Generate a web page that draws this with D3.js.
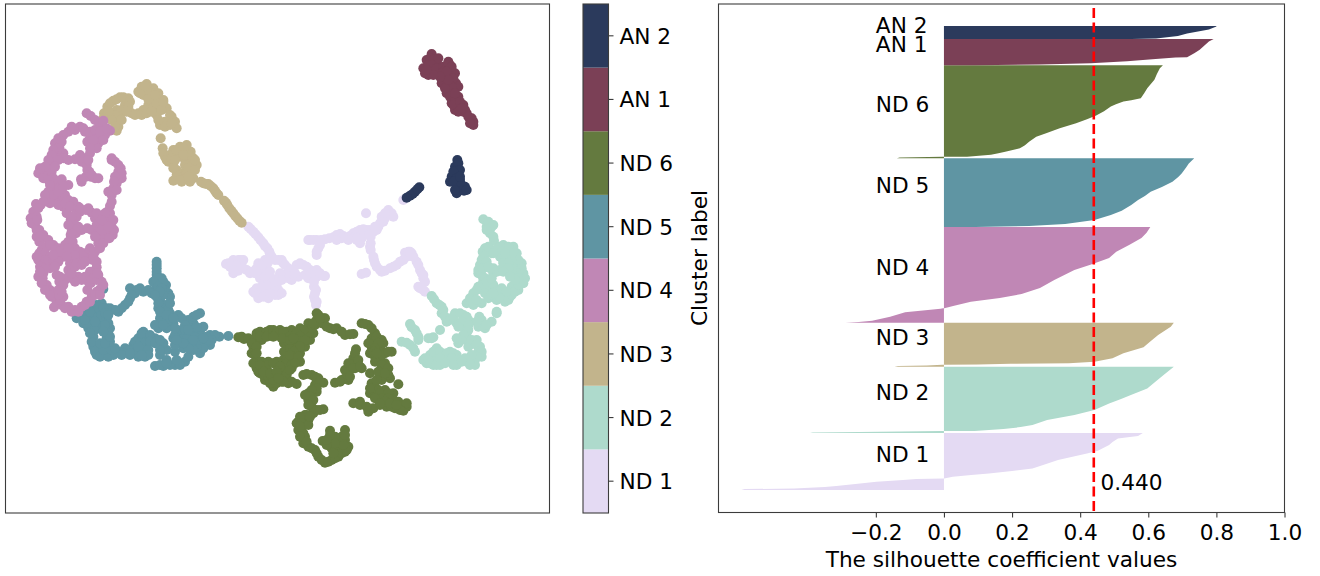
<!DOCTYPE html>
<html><head><meta charset="utf-8">
<script src="https://cdn.jsdelivr.net/npm/d3@7"></script>
<style>html,body{margin:0;padding:0;background:#fff}svg{display:block}text{font-family:"DejaVu Sans";fill:#000}</style>
</head><body><svg id="c" width="1320" height="576"></svg>
<script>
const labels = ["ND 1","ND 2","ND 3","ND 4","ND 5","ND 6","AN 1","AN 2"];
const colors = ["#e4daf3","#aedacc","#c2b48c","#c087b5","#5f95a3","#647a3f","#7b4056","#2b3a5c"];
const clusterSizes = [285,332,220,478,344,465,131,65];
const meanScore = 0.44;
const scoreTicks = [-0.2,0,0.2,0.4,0.6,0.8,1.0];

const nd1Scores = [[0,-.595],[5,-.585],[8,-.44],[15,-.35],[20,-.316],[30,-.26],[42,-.198],[50,-.12],[55,-.081],[58,-.002],[59,.004],[67,.026],[75,.08],[83,.132],[95,.2],[108,.26],[130,.3],[150,.335],[183,.42],[197,.452],[225,.485],[240,.495],[258,.511],[264,.54],[270,.57],[285,.584]];
const nd2Scores = [[0,-.393],[3,-.385],[6,-.25],[10,-.01],[11,.09],[20,.175],[30,.225],[40,.26],[65,.303],[90,.383],[115,.442],[148,.485],[170,.52],[190,.549],[223,.597],[255,.62],[290,.645],[332,.675]];
const nd3Scores = [[0,-.145],[3,-.135],[6,-.05],[10,-.005],[11,.1],[14,.196],[17,.367],[25,.442],[42,.495],[67,.527],[97,.586],[125,.605],[158,.629],[200,.666],[220,.675]];
const nd4Scores = [[0,-.289],[3,-.25],[10,-.211],[30,-.158],[52,-.114],[70,-.01],[72,-.003],[73,.004],[85,.03],[105,.079],[123,.164],[143,.228],[173,.282],[213,.324],[263,.383],[290,.43],[313,.469],[323,.485],[355,.506],[390,.545],[423,.58],[450,.595],[478,.606]];
const nd5Scores = [[0,.09],[5,.25],[15,.356],[35,.442],[60,.49],[82,.522],[110,.55],[135,.57],[155,.59],[177,.607],[200,.64],[227,.671],[250,.688],[268,.698],[295,.71],[318,.719],[344,.735]];
const nd6Scores = [[0,-.138],[4,-.13],[7,-.005],[8,.068],[17,.138],[25,.16],[33,.18],[50,.223],[65,.238],[83,.25],[108,.271],[125,.3],[150,.34],[175,.388],[195,.42],[213,.447],[235,.47],[258,.49],[270,.505],[283,.527],[290,.55],[300,.578],[325,.588],[350,.597],[392,.618],[420,.625],[450,.634],[465,.643]];
const an1Scores = [[0,.09],[3,.282],[10,.431],[20,.538],[30,.612],[38,.68],[40,.714],[60,.735],[77,.751],[118,.778],[131,.792]];
const an2Scores = [[0,.55],[2,.623],[15,.687],[28,.714],[48,.778],[62,.8],[65,.8]];
const allScores = [nd1Scores,nd2Scores,nd3Scores,nd4Scores,nd5Scores,nd6Scores,an1Scores,an2Scores];

const nd4Points = [[260,160],[272,168],[285,180],[298,192],[310,182],[330,212],[315,225],[300,235],[285,225],[270,235],[255,215],[240,200],[225,210],[205,215],[190,225],[175,235],[165,250],[178,262],[190,280],[170,280],[160,300],[150,320],[262,245],[275,260],[295,250],[270,280],[255,295],[240,285],[190,295],[205,300],[225,298],[245,305],[260,315],[268,335],[272,350],[285,355],[258,350],[243,358],[125,335],[140,345],[155,335],[160,355],[165,372],[160,390],[185,358],[205,375],[178,385],[150,410],[165,405],[180,415],[195,405],[205,420],[220,425],[165,425],[140,420],[108,432],[122,435],[100,455],[92,475],[105,495],[118,510],[130,525],[145,540],[160,555],[175,565],[192,570],[118,545],[125,570],[110,530],[140,560],[190,440],[200,460],[212,480],[215,500],[228,520],[225,445],[240,455],[258,450],[275,458],[285,475],[290,495],[230,470],[222,490],[245,510],[262,505],[275,510],[295,515],[305,530],[295,550],[285,575],[270,565],[255,580],[240,575],[225,565],[218,545],[212,525],[330,438],[322,455],[318,475],[330,480],[335,500],[338,525],[320,515],[312,495],[312,535],[115,600],[118,580],[135,580],[150,590],[170,585],[190,590],[200,575],[140,610],[150,625],[130,640],[128,655],[140,675],[150,690],[165,705],[170,725],[162,742],[185,735],[205,740],[225,750],[245,740],[260,725],[275,710],[290,695],[300,688],[305,665],[295,645],[290,622],[270,635],[255,650],[235,650],[215,655],[195,660],[178,665],[170,645],[205,630],[210,610],[220,595],[240,600],[262,595],[278,600],[175,690],[190,710],[180,720],[262,690],[272,670],[335,300],[355,315],[355,335],[365,355],[350,370],[340,385],[325,395],[335,405],
[185,245],[175,265],[160,270],[155,285],[145,300],[175,300],[165,320],[135,320],[120,325],[115,340],[130,355],[145,360],[150,375],[145,395],[160,405],[135,405],[175,395],[190,380],[215,200],[250,205],[270,215],[285,210],[300,215],[320,205],[310,240],[290,265],[280,240],[270,265],[265,300],[262,330],[275,345],[295,355],[245,365],[175,435],[150,430],[130,425],[115,445],[195,430],[210,440],[235,440],[110,470],[95,490],[110,510],[112,480],[120,530],[150,555],[165,570],[180,575],[195,555],[205,545],[215,515],[205,495],[215,470],[240,445],[265,445],[290,460],[298,485],[300,505],[235,500],[285,530],[310,550],[300,565],[280,590],[250,590],[225,585],[205,565],[200,590],[335,425],[330,460],[340,480],[342,510],[328,535],[305,510],[315,460],[305,480],[325,500],[130,600],[110,590],[120,620],[135,625],[145,600],[160,600],[175,605],[165,620],[160,585],[125,670],[115,650],[120,635],[135,690],[155,710],[175,705],[150,705],[195,745],[215,755],[235,755],[255,735],[270,725],[285,705],[300,705],[310,675],[290,660],[280,655],[265,665],[245,660],[225,665],[205,650],[215,640],[225,620],[230,610],[245,615],[255,605],[290,605],[292,640],[180,650],[190,675],[185,695],[345,305],[362,325],[365,340],[345,350],[342,365],[335,295],[350,390]];
const nd3Points = [[312,160],[322,140],[340,122],[360,112],[385,115],[375,135],[350,150],[335,165],[318,175],[360,165],[372,150],[350,212],[355,200],[345,185],[395,160],[415,160],[430,150],[445,135],[455,125],[440,150],[460,145],[470,165],[480,195],[495,200],[510,195],[525,185],[530,205],[515,170],[500,145],[490,120],[475,100],[460,85],[440,72],[425,80],[415,95],[430,105],[450,105],[465,120],[480,135],[482,235],[488,265],[495,290],[505,305],[520,270],[540,260],[560,255],[572,275],[580,295],[590,315],[575,335],[580,355],[570,365],[545,365],[520,362],[535,290],[555,300],[520,310],[545,340],[560,340],[540,275],[510,285],[530,330],[610,370],[625,372],[640,385],[650,400],[678,428],[688,445],[700,460],[712,475],[725,488],
[330,130],[350,118],[370,112],[390,125],[385,140],[365,150],[345,165],[325,155],[310,175],[335,180],[345,200],[365,180],[380,155],[405,165],[425,165],[440,160],[455,155],[470,130],[455,100],[440,90],[420,100],[435,78],[445,118],[465,105],[485,150],[490,125],[510,165],[495,185],[475,180],[515,190],[490,280],[500,300],[515,295],[530,270],[550,265],[565,285],[575,310],[555,315],[565,325],[585,330],[560,355],[535,355],[530,345],[550,285],[525,300],[520,325],[540,360],[565,350],[585,300],[603,365],[618,372],[632,378],[645,392],[655,405],[682,435],[694,452],[706,468],[718,482],[672,422]];
const nd5Points = [[470,605],[470,625],[470,645],[485,655],[498,675],[505,700],[480,670],[465,690],[445,690],[420,685],[390,685],[405,700],[390,715],[375,735],[355,755],[330,745],[305,730],[280,745],[300,755],[480,720],[475,745],[490,765],[510,760],[520,790],[500,805],[475,805],[535,765],[565,780],[600,760],[580,790],[530,810],[560,820],[600,815],[630,825],[658,830],[685,828],[630,855],[600,880],[575,850],[540,840],[520,835],[550,865],[525,875],[500,870],[490,850],[480,885],[500,900],[525,915],[555,905],[465,918],[490,918],[430,815],[415,835],[400,855],[420,870],[445,835],[465,835],[415,890],[390,885],[375,865],[435,890],[230,775],[250,790],[265,805],[280,830],[280,860],[290,885],[315,885],[340,885],[355,875],[330,860],[305,860],[320,835],[330,805],[310,790],[280,780],[300,780],[265,750],[255,765],[315,810],[310,687]];
const nd6Points = [[715,832],[732,837],[755,840],[770,820],[790,820],[810,810],[840,810],[845,830],[825,825],[860,815],[875,810],[760,860],[765,885],[785,840],[852,850],[852,875],[850,900],[830,905],[805,905],[785,905],[770,925],[780,940],[795,960],[820,980],[845,965],[865,970],[890,972],[830,945],[800,925],[845,925],[875,925],[860,900],[880,905],[890,880],[900,905],[900,880],[915,860],[930,840],[940,820],[915,825],[895,840],[880,850],[880,820],[900,805],[925,790],[950,780],[970,775],[950,760],[990,805],[1010,805],[1035,825],[1060,822],[910,945],[935,945],[955,955],[970,968],[945,975],[950,995],[925,1000],[925,1020],[935,1040],[970,1048],[950,1050],[915,1065],[895,1085],[925,1080],[905,1105],[915,1130],[910,1150],[925,1160],[945,1170],[955,1190],[975,1208],[995,1200],[1015,1190],[1035,1175],[1045,1160],[1035,1140],[1035,1110],[1015,1140],[1015,1160],[995,1165],[990,1140],[990,1112],[968,1143],[1068,868],[1060,895],[1075,915],[1085,925],[1050,925],[1035,930],[1045,960],[1025,960],[1005,968],[1085,790],[1105,795],[1125,820],[1145,840],[1115,835],[1115,860],[1140,865],[1175,875],[1125,890],[1135,905],[1155,910],[1160,940],[1170,955],[1145,960],[1110,940],[1115,970],[1110,1000],[1130,1010],[1155,990],[1180,1000],[1195,973],[1195,1025],[1220,1040],[1210,1052],[1185,1045],[1160,1040],[1140,1035],[1105,1055],[1060,1030],[1080,1025],[1125,980]];
const nd1Points = [[745,500],[760,515],[775,532],[790,550],[802,565],[810,582],[678,612],[695,608],[715,600],[730,600],[705,625],[720,622],[700,640],[740,630],[755,635],[770,625],[775,610],[795,600],[815,595],[835,600],[850,610],[865,625],[870,645],[855,645],[800,615],[790,635],[780,655],[795,665],[815,655],[835,655],[830,675],[820,690],[835,705],[765,700],[780,690],[795,700],[805,715],[775,715],[890,615],[910,615],[930,630],[950,630],[970,648],[950,650],[895,650],[875,660],[915,645],[935,655],[942,680],[945,700],[945,720],[948,735],[930,540],[950,540],[975,538],[1000,532],[1020,522],[1040,535],[1060,520],[1080,510],[1100,510],[1120,515],[1135,500],[1150,485],[1160,460],[1180,470],[1145,470],[955,565],[950,585],[1070,540],[1080,550],[1110,560],[1112,530],[1098,460],[1210,420],[1122,600],[1130,620],[1145,635],[1170,625],[1190,615],[1210,600],[1215,578],[1235,580],[1250,605],[1260,630],[1270,655],[1260,685],[1275,695],[1085,642],[1098,638]];
const nd2Points = [[1450,478],[1460,500],[1480,495],[1470,520],[1482,542],[1455,565],[1450,590],[1440,615],[1435,640],[1450,660],[1435,680],[1420,700],[1400,730],[1420,735],[1445,730],[1465,715],[1490,720],[1515,725],[1530,710],[1510,700],[1485,690],[1460,680],[1555,690],[1570,670],[1570,640],[1565,610],[1550,580],[1540,560],[1510,555],[1525,580],[1510,605],[1460,620],[1475,580],[1500,575],[1480,640],[1545,620],[1535,680],[1480,675],[1490,760],[1438,770],[1435,800],[1455,805],[1475,785],[1295,708],[1310,730],[1325,740],[1325,760],[1340,785],[1365,760],[1390,765],[1405,780],[1390,800],[1370,790],[1400,820],[1375,850],[1400,835],[1430,840],[1440,860],[1445,890],[1425,900],[1405,860],[1230,792],[1245,810],[1255,830],[1205,845],[1230,855],[1245,875],[1285,835],[1320,810],[1300,832],[1275,895],[1290,885],[1310,865],[1330,885],[1350,875],[1370,885],[1280,910],[1300,915],[1320,915],[1345,900],[1370,915],[1400,905],[1425,915],[1375,900],[1310,895]];
const an1Points = [[1295,-18],[1280,0],[1270,25],[1285,45],[1310,10],[1320,35],[1350,15],[1365,40],[1368,70],[1345,75],[1325,70],[1340,100],[1355,130],[1375,110],[1365,150],[1390,135],[1400,160],[1390,155],[1415,175],[1420,195],[1300,30],[1330,50],[1350,50],[1375,140]];
const an2Points = [[1372,300],[1365,320],[1375,340],[1355,350],[1350,365],[1380,360],[1395,380],[1370,400],[1392,392],[1375,375],[1230,407],[1245,395],[1258,382]];

/* further read-offs, noted in the frame of the enlarged crop each cluster was read from */
const lowerCrop = [180,540];
const upperCrop = [630,-90];
const nd5More = [[290,75],[290,95],[295,115],[280,125],[310,125],[315,150],[330,170],[310,165],[290,170],[275,160],[250,155],[230,150],[215,165],[205,185],[185,205],[165,210],[140,205],[110,195],[110,215],[130,205],[120,230],[140,235],[135,220],[80,230],[65,235],[95,225],[110,255],[125,265],[85,245],[145,250],[315,195],[310,205],[325,210],[300,235],[320,245],[285,255],[310,255],[295,190],[330,190],[365,235],[375,255],[400,230],[410,225],[430,260],[440,290],[465,285],[455,300],[435,310],[430,325],[410,320],[415,300],[400,285],[385,300],[370,290],[355,285],[345,285],[365,270],[395,265],[410,262],[345,315],[300,330],[330,375],[360,375],[385,350],[300,375],[255,290],[245,280],[270,285],[225,305],[240,310],[255,310],[270,305],[285,310],[300,300],[230,340],[220,330],[250,330],[265,330],[205,330],[190,340],[265,345],[95,305],[105,335],[120,350],[145,350],[165,340],[185,345],[130,330],[155,330],[165,325],[150,305],[145,280],[135,255],[95,260],[105,270],[80,250],[90,280],
[295,140],[305,145],[300,155],[285,165],[300,215],[320,225],[340,235],[345,265],[375,270],[385,270],[400,300],[445,300],[430,295],[400,330],[385,325],[370,310],[350,300],[235,320],[210,340],[245,345],[320,370],[350,360],[120,310],[135,310],[150,290],[130,275],[105,245],[75,240],[90,215],[145,225]];
const nd6More = [[545,290],[565,295],[585,295],[600,275],[620,275],[640,270],[650,280],[670,275],[690,290],[685,305],[665,295],[590,305],[575,340],[590,360],[585,330],[580,370],[595,395],[605,385],[610,405],[625,410],[630,430],[650,430],[640,420],[660,410],[675,410],[680,405],[695,425],[680,370],[695,375],[700,355],[715,320],[690,325],[710,330],[725,310],[740,300],[745,280],[755,265],[730,270],[710,280],[690,300],[765,255],[785,250],[760,250],[795,235],[775,225],[780,235],[820,268],[845,275],[870,283],[800,260],[740,402],[765,410],[780,425],[770,445],[755,450],[750,470],[735,465],[760,480],[745,495],[760,520],[780,510],[730,540],[740,525],[720,530],[710,550],[725,550],[715,570],[730,580],[745,555],[750,530],[720,590],[740,605],[755,625],[770,640],[785,660],[805,665],[825,655],[845,640],[860,630],[850,615],[845,590],[825,590],[825,610],[800,615],[820,640],[855,585],[810,585],[800,600],[885,340],[875,370],[885,385],[865,370],[895,360],[880,385],[900,380],[855,415],[840,425],[870,410],[915,252],[935,265],[950,290],[970,310],[945,305],[955,310],[925,310],[945,325],[975,340],[930,340],[940,335],[965,345],[985,335],[945,365],[965,375],[985,385],[985,405],[960,405],[965,410],[945,455],[955,450],[960,460],[985,460],[965,475],[1000,480],[1020,495],[1040,490],[1020,510],[995,500],[940,505],[900,495],[920,500],[930,445],[985,475],[975,485],
[600,290],[620,290],[640,290],[575,310],[590,320],[590,340],[620,375],[640,370],[660,380],[600,375],[610,395],[630,400],[650,395],[670,425],[655,415],[720,290],[700,295],[735,300],[720,320],[700,335],[690,345],[715,350],[705,370],[690,390],[950,340],[955,395],[975,400],[950,420],[945,475],[960,490],[990,490],[1010,495],[720,560]];
const nd1More = [[122,597],[137,613],[152,631],[165,648],[178,665],[185,680],[55,700],[70,690],[92,690],[60,710],[80,705],[85,722],[70,720],[100,715],[120,730],[135,730],[150,720],[155,705],[175,695],[195,690],[215,690],[225,705],[240,720],[235,745],[250,735],[165,740],[180,725],[210,730],[215,750],[200,755],[185,760],[170,765],[155,770],[140,775],[130,785],[145,795],[160,800],[205,780],[195,795],[180,790],[215,790],[270,700],[290,710],[310,725],[330,730],[345,738],[255,730],[300,735],[295,745],[312,755],[318,780],[312,800],[320,815],[295,630],[310,630],[333,630],[358,625],[380,615],[400,618],[420,618],[440,605],[460,598],[480,600],[500,600],[510,580],[525,565],[535,540],[545,550],[525,550],[495,590],[475,615],[455,625],[435,620],[415,630],[395,625],[380,630],[330,645],[320,665],[450,620],[482,640],[482,660],[440,625],[490,680],[495,700],[510,720],[525,722],[550,710],[570,695],[590,680],[595,665],[610,680],[625,705],[635,730],[645,755],[640,780],[625,770],[640,735],[600,665]];
const nd2More = [[835,575],[845,590],[830,600],[850,620],[818,665],[830,670],[815,690],[805,720],[815,735],[825,745],[815,765],[800,780],[780,805],[800,810],[825,790],[845,795],[870,800],[895,810],[905,795],[845,760],[830,755],[850,790],[875,775],[890,785],[915,785],[925,765],[945,745],[935,715],[925,690],[910,665],[895,650],[870,650],[855,660],[835,650],[905,690],[905,710],[920,730],[925,745],[905,725],[870,720],[845,745],[820,715],[830,695],[870,680],[890,690],[915,750],[815,870],[800,875],[830,885],[860,845],[672,808],[688,825],[700,840],[705,860],[720,870],[730,860],[750,850],[770,860],[755,875],[775,885],[745,890],[775,900],[760,915],[755,930],[740,925],[785,930],[800,945],[805,965],[815,965],[800,980],[785,975],[765,985],[780,1000],[605,892],[620,910],[590,938],[610,955],[625,930],[665,925],[640,990],[655,990],[670,965],[690,965],[710,970],[730,970],[660,1000],[680,1005],[700,990],[725,985],[730,1005],[755,995],[780,1005],[690,985],[705,1000],
[860,660],[875,665],[880,700],[895,700],[895,715],[885,670],[860,725],[850,715],[840,715],[835,710],[850,670],[880,725],[900,740]];
const an1More = [[660,85],[670,90],[685,85],[655,105],[665,105],[680,115],[700,110],[715,95],[725,110],[700,125],[710,125],[730,145],[745,170],[725,170],[705,175],[715,150],[690,140],[670,135],[645,130],[650,120],[720,200],[735,205],[730,225],[750,215],[745,245],[765,240],[775,260],[790,275],[780,280],[755,235],[735,190]];
const an2More = [[745,400],[738,420],[750,420],[730,425],[740,445],[730,455],[755,465],[735,480],[770,480],[750,440],[608,492],[622,478],[590,503]];

const fromCrop = (pts,c)=>pts.map(p=>[p[0]+c[0],p[1]+c[1]]);
const clusterPoints = [
  nd1Points.concat(fromCrop(nd1More,upperCrop)),
  nd2Points.concat(fromCrop(nd2More,upperCrop)),
  nd3Points,
  nd5Points.concat(fromCrop(nd5More,lowerCrop)),
  nd4Points,
  nd6Points.concat(fromCrop(nd6More,lowerCrop)),
  an1Points.concat(fromCrop(an1More,upperCrop)),
  an2Points.concat(fromCrop(an2More,upperCrop))
];
const drawColors = [colors[0],colors[1],colors[2],colors[4],colors[3],colors[5],colors[6],colors[7]];

const svg = d3.select("#c");
const spine = "#3c3c3c";
function frame(x0,y0,x1,y1,color){
  svg.append("rect").attr("x",x0).attr("y",y0).attr("width",x1-x0).attr("height",y1-y0)
    .attr("fill","none").attr("stroke",color||spine).attr("stroke-width",1.1);
}
const fs = 21.65;

/* scatter */
const ex = d3.scaleLinear().domain([16.5,1648.5]).range([5.5,549.5]);
const ey = d3.scaleLinear().domain([-168,1359]).range([4,513]);
clusterPoints.forEach((pts,i)=>{
  svg.append("g").attr("fill",drawColors[i]).selectAll("circle").data(pts).join("circle")
    .attr("cx",d=>ex(d[0])).attr("cy",d=>ey(d[1])).attr("r",5);
});
frame(5.5,4,549.5,513);

/* colour bar */
const cb = d3.scaleBand().domain(labels.slice().reverse()).range([4,513]);
svg.append("g").selectAll("rect").data(labels).join("rect")
  .attr("x",583).attr("width",25.5).attr("y",d=>cb(d)).attr("height",cb.bandwidth())
  .attr("fill",(d,i)=>colors[i]);
frame(583,4,608.5,513);
const cbAxis = svg.append("g").attr("transform","translate(608.5,0)")
  .call(d3.axisRight(cb).tickSize(5).tickPadding(6));
cbAxis.select(".domain").remove();
cbAxis.selectAll("line").attr("stroke",spine).attr("stroke-width",1.1);
cbAxis.selectAll("text").attr("font-size",fs).attr("font-family","DejaVu Sans").attr("fill","#000").attr("dy","0.37em");

/* silhouette */
const sx = d3.scaleLinear().domain([-0.662,1.0]).range([718.5,1284.5]);
const sy = d3.scaleLinear().domain([-112,2431]).range([512.5,3.8]);
const offsets = [0,...d3.cumsum(clusterSizes)];
allScores.forEach((prof,i)=>{
  const area = d3.area().x0(sx(0)).x1(d=>sx(d[1])).y(d=>sy(d[0]+offsets[i]));
  svg.append("path").datum(prof).attr("d",area).attr("fill",colors[i]);
  svg.append("text").attr("x",sx(-0.2)).attr("y",sy(offsets[i]+clusterSizes[i]/2))
    .attr("font-size",fs).text(labels[i]);
});
frame(718.5,4,1284.5,512.5);
const xa = svg.append("g").attr("transform","translate(0,512.5)")
  .call(d3.axisBottom(sx).tickValues(scoreTicks).tickFormat(d3.format(".1f")).tickSize(5).tickPadding(7));
xa.select(".domain").remove();
xa.selectAll("line").attr("stroke",spine).attr("stroke-width",1.1);
xa.selectAll("text").attr("font-size",fs).attr("font-family","DejaVu Sans").attr("fill","#000");

svg.append("line").attr("x1",sx(meanScore)).attr("x2",sx(meanScore)).attr("y1",8).attr("y2",512.5)
  .attr("stroke","#ff0000").attr("stroke-width",2.6).attr("stroke-dasharray","10,4.5");
svg.append("text").attr("x",sx(meanScore+0.02)).attr("y",sy(0)).attr("font-size",fs).text(d3.format(".3f")(meanScore));

svg.append("text").attr("x",1001.5).attr("y",567).attr("text-anchor","middle").attr("font-size",fs).text("The silhouette coefficient values");
svg.append("text").attr("transform","translate(707,258) rotate(-90)").attr("text-anchor","middle").attr("font-size",fs).text("Cluster label");
</script></body></html>
